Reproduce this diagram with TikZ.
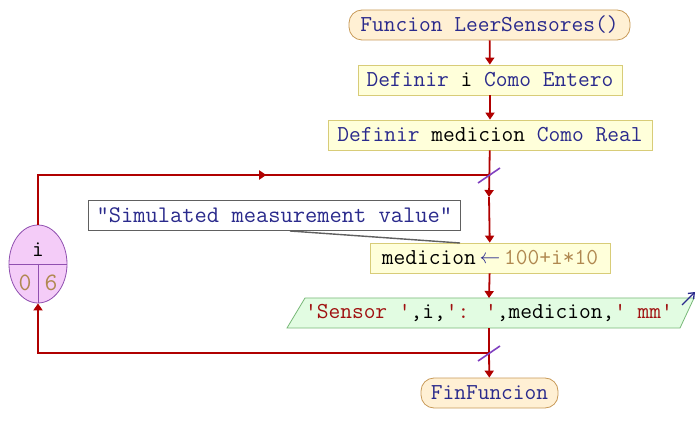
\documentclass[tikz,border=0pt]{standalone}
\usepackage{fontspec}
\usetikzlibrary{arrows.meta,decorations.markings,shapes.geometric}
\definecolor{flowred}{HTML}{B00000}
\definecolor{kwblue}{HTML}{2A2A8C}
\definecolor{numbrown}{HTML}{B08850}
\definecolor{strred}{HTML}{A01010}
\definecolor{termfill}{HTML}{FFF0D4}
\definecolor{termdraw}{HTML}{C89A58}
\definecolor{procfill}{HTML}{FFFFDA}
\definecolor{procdraw}{HTML}{D8CC78}
\definecolor{outfill}{HTML}{E2FCE2}
\definecolor{outdraw}{HTML}{78B878}
\definecolor{loopfill}{HTML}{F4CCF8}
\definecolor{loopdraw}{HTML}{9050B0}
\definecolor{slash}{HTML}{8040C0}
\definecolor{cmtdraw}{HTML}{606060}
\tikzset{
  base/.style={font=\ttfamily\fontsize{22.8}{23}\selectfont, inner sep=0pt, minimum height=30pt},
  term/.style={base, draw=termdraw, fill=termfill, line width=0.8pt, rounded corners=13pt},
  proc/.style={base, draw=procdraw, fill=procfill, line width=0.8pt},
  flow/.style={draw=flowred, line width=1.8pt, -{Triangle[width=9pt,length=7pt]}},
  flowline/.style={draw=flowred, line width=1.8pt},
  slashline/.style={draw=slash, line width=1.6pt},
  midarrow/.style={postaction={decorate}, decoration={markings, mark=at position #1 with {\arrow{Triangle[width=9pt,length=7pt]}}}},
}
\begin{document}
\begin{tikzpicture}[x=1pt,y=-1pt]
\useasboundingbox (0,0) rectangle (698,443);
% nodes
\node[term, minimum width=281pt] (start) at (489.5,25) {\color{kwblue}Funcion LeerSensores()};
\node[proc, minimum width=264pt] (def1) at (490,80) {\color{kwblue}Definir \color{black}i \color{kwblue}Como Entero};
\node[proc, minimum width=324pt] (def2) at (490,135) {\color{kwblue}Definir \color{black}medicion \color{kwblue}Como Real};
\node[base, draw=cmtdraw, fill=white, line width=0.8pt, minimum width=372pt, anchor=west, font=\ttfamily\fontsize{23.8}{24}\selectfont] (cmt) at (88,215) {\color{kwblue}"Simulated measurement value"};
\node[proc, minimum width=240pt] (asg) at (490,258) {\color{black}medicion\,{\color{kwblue}\raisebox{1pt}{$\leftarrow$}}\,\color{numbrown}100+i*10};
% output parallelogram
\fill[outfill] (305,298) -- (694,298) -- (680,328) -- (287,328) -- cycle;
\draw[outdraw, line width=0.8pt] (305,298) -- (694,298) -- (680,328) -- (287,328) -- cycle;
\node[base] (out) at (489,313) {\color{strred}'Sensor '\color{black},i,\color{strred}': '\color{black},medicion,\color{strred}' mm'};
\coordinate (outtop) at (489,298);
\coordinate (outbot) at (489,328);
\node[term, minimum width=137pt] (fin) at (489.5,393) {\color{kwblue}FinFuncion};
% loop ellipse
\node[draw=loopdraw, fill=loopfill, line width=0.8pt, ellipse, minimum width=58pt, minimum height=78pt, inner sep=0pt] (loop) at (38,264) {};
\draw[loopdraw, line width=0.8pt] (9,264) -- (67,264) (38,264) -- (38,303);
\node[base, minimum height=0pt] (lv) at (38,250) {i};
\node[base, minimum height=0pt, text=numbrown, font=\ttfamily\fontsize{25}{25}\selectfont] (l0) at (25,283) {0};
\node[base, minimum height=0pt, text=numbrown, font=\ttfamily\fontsize{25}{25}\selectfont] (l6) at (51,283) {6};
% coordinates
\coordinate (jtop) at (489,175);
\coordinate (jmid) at (489,197);
\coordinate (jbot) at (489,353);
\coordinate (ltop) at (38,175);
\coordinate (lbot) at (38,353);
% connectors
\draw[flow] (start) -- (def1);
\draw[flow] (def1) -- (def2);
\draw[flow] (def2) -- (jmid);
\draw[flow] (jmid) -- (asg);
\draw[flow] (asg) -- (outtop);
\draw[flowline] (outbot) -- (jbot);
\draw[flow] (jbot) -- (fin);
\draw[flowline, midarrow=0.555] (loop.north) -- (ltop) -- (jtop);
\draw[flow] (jbot) -- (lbot) -- (loop.south);
\draw[slashline] (478,183) -- (500,168);
\draw[slashline] (478,361) -- (500,346);
% comment connector
\draw[cmtdraw, line width=1.4pt] (290,231) -- (460,243);
% output arrow
\draw[kwblue, line width=1.3pt, -{Straight Barb[width=8pt,length=5pt]}] (682,305) -- (695,292);
\end{tikzpicture}
\end{document}
